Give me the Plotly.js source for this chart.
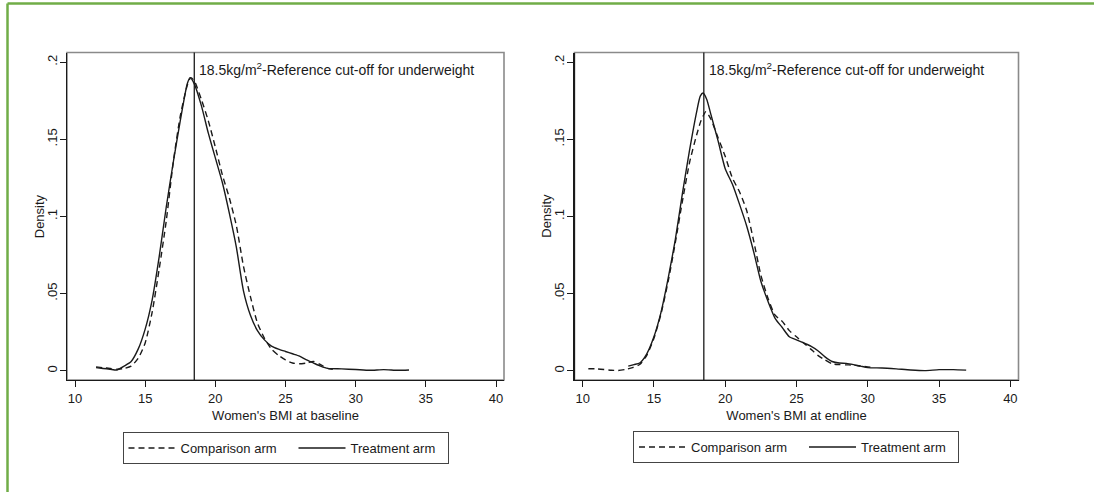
<!DOCTYPE html>
<html><head><meta charset="utf-8">
<script src="https://cdn.plot.ly/plotly-3.0.1.min.js"></script>
<style>html,body{margin:0;padding:0;background:#fff;} #chart{width:1094px;height:492px;}</style>
</head><body><div id="chart"></div>
<script>
// ---- data ----
const cutoff = 18.5;
const seriesNames = ['Comparison arm', 'Treatment arm'];
const xTitles = ["Women's BMI at baseline", "Women's BMI at endline"];
const yTitle = 'Density';
const cutoffLabel = '18.5kg/m<sup>2</sup>-Reference cut-off for underweight';
const xTickVals = [10, 15, 20, 25, 30, 35, 40];
const yTickVals = [0, 0.05, 0.1, 0.15, 0.2];
const yTickText = ['0', '.05', '.1', '.15', '.2'];

// Baseline – comparison arm (dashed)
const baseCompX = [11.5,12,12.5,13,13.5,14,14.5,15,15.5,16,16.5,17,17.5,18,18.25,18.5,19,19.5,20,20.5,21,21.5,22,22.5,23,23.5,24,24.5,25,25.5,26,26.5,27,27.5,28,28.5];
const baseCompY = [0.0025,0.002,0.0015,0.001,0.0015,0.003,0.008,0.018,0.038,0.066,0.097,0.135,0.165,0.185,0.190,0.188,0.176,0.162,0.145,0.127,0.112,0.094,0.068,0.048,0.031,0.021,0.014,0.010,0.007,0.005,0.0045,0.005,0.006,0.004,0.0015,0.0008];
// Baseline – treatment arm (solid)
const baseTreatX = [11.5,12,12.5,13,13.5,14,14.5,15,15.5,16,16.5,17,17.5,18,18.2,18.5,19,19.5,20,20.5,21,21.5,22,22.5,23,23.5,24,24.5,25,25.5,26,26.5,27,27.5,28,29,30,31,32,33,33.8];
const baseTreatY = [0.002,0.0015,0.001,0.0005,0.003,0.006,0.014,0.027,0.046,0.074,0.106,0.135,0.162,0.186,0.190,0.186,0.172,0.154,0.138,0.122,0.102,0.080,0.052,0.036,0.026,0.020,0.016,0.014,0.0125,0.011,0.0095,0.007,0.005,0.003,0.0015,0.0012,0.0008,0.0003,0.0007,0.0003,0.0005];
// Endline – comparison arm (dashed)
const endCompX = [10.4,11,11.5,12,12.5,13,13.5,14,14.5,15,15.5,16,16.5,17,17.5,18,18.3,18.65,19,19.5,20,20.5,21,21.5,22,22.5,23,23.5,24,24.5,25,25.5,26,26.5,27,27.5,28,28.5,29,29.5,30,30.3];
const endCompY = [0.0013,0.0012,0.0008,0.0003,0.0002,0.0008,0.002,0.004,0.010,0.021,0.037,0.058,0.083,0.110,0.135,0.153,0.162,0.168,0.163,0.151,0.139,0.125,0.116,0.104,0.084,0.062,0.047,0.036,0.032,0.026,0.022,0.018,0.014,0.010,0.007,0.0045,0.004,0.0038,0.0037,0.003,0.0025,0.0022];
// Endline – treatment arm (solid)
const endTreatX = [13.2,13.6,14,14.5,15,15.5,16,16.5,17,17.5,18,18.25,18.45,18.7,19,19.5,20,20.5,21,21.5,22,22.5,23,23.5,24,24.5,25,25.5,26,26.5,27,27.5,28,28.5,29,29.5,30,31,32,33,34,35,36,36.9];
const endTreatY = [0.003,0.004,0.005,0.011,0.022,0.038,0.060,0.085,0.115,0.143,0.168,0.178,0.180,0.176,0.166,0.149,0.131,0.121,0.108,0.094,0.077,0.058,0.045,0.034,0.028,0.022,0.020,0.018,0.016,0.013,0.009,0.006,0.005,0.0048,0.004,0.003,0.002,0.0018,0.0012,0.0005,0.0001,0.0007,0.0007,0.0004];

// ---- styling ----
const FONT = "'Liberation Sans', Arial, sans-serif";
const INK = '#1a1a1a';
const dashStyle = '6px,4px';
const TICK_SIZE = 13, TITLE_SIZE = 13, LEG_SIZE = 13, NOTE_SIZE = 14;

function curve(x, y, name, dash, xa, ya, lg) {
  return {
    type: 'scatter', mode: 'lines', x: x, y: y, name: name,
    xaxis: xa, yaxis: ya, legend: lg,
    line: {color: INK, width: 1.4, dash: dash, shape: 'spline', smoothing: 0.6},
    hoverinfo: 'skip'
  };
}

const traces = [
  curve(baseCompX, baseCompY, seriesNames[0], dashStyle, 'x', 'y', 'legend'),
  curve(baseTreatX, baseTreatY, seriesNames[1], 'solid', 'x', 'y', 'legend'),
  curve(endCompX, endCompY, seriesNames[0], dashStyle, 'x2', 'y2', 'legend2'),
  curve(endTreatX, endTreatY, seriesNames[1], 'solid', 'x2', 'y2', 'legend2')
];
traces[1].legendwidth = 92;
traces[3].legendwidth = 92;

const W = 1094, H = 492;
const yDom = [1 - 380 / H, 1 - 52.5 / H];

function xAxis(domain, title, anchor) {
  return {
    domain: domain, anchor: anchor, range: [9.43, 40.57],
    tickmode: 'array', tickvals: xTickVals,
    ticks: 'outside', ticklen: 6, tickwidth: 1, tickcolor: INK,
    showline: true, linecolor: INK, linewidth: 1.3,
    showgrid: false, zeroline: false,
    tickfont: {family: FONT, size: TICK_SIZE, color: INK},
    title: {text: title, font: {family: FONT, size: TITLE_SIZE, color: INK}, standoff: 6},
    fixedrange: true
  };
}
function yAxis(anchor) {
  return {
    domain: yDom, anchor: anchor, range: [-0.006, 0.2063],
    tickmode: 'array', tickvals: yTickVals, ticktext: yTickText, tickangle: -90,
    ticks: 'outside', ticklen: 6, tickwidth: 1, tickcolor: INK,
    ticklabelstandoff: -2,
    showline: true, linecolor: INK, linewidth: 1.3,
    showgrid: false, zeroline: false,
    tickfont: {family: FONT, size: TICK_SIZE, color: INK},
    fixedrange: true
  };
}

function frame(xr, yr) {
  return {type: 'rect', xref: xr + ' domain', yref: yr + ' domain', x0: 0, x1: 1, y0: 0, y1: 1,
          line: {color: '#8a8a8a', width: 1.6}, layer: 'below'};
}
function cutLine(xr, yr) {
  return {type: 'line', xref: xr, yref: yr + ' domain', x0: cutoff, x1: cutoff, y0: 0, y1: 1,
          line: {color: INK, width: 1.3}};
}
function cutText(xr, yr) {
  return {xref: xr, yref: yr + ' domain', x: cutoff, y: 1, xanchor: 'left', yanchor: 'top',
          xshift: 3, yshift: -5, showarrow: false, text: cutoffLabel,
          font: {family: FONT, size: NOTE_SIZE, color: INK}};
}
function yTitleNote(xr, yr) {
  return {xref: xr + ' domain', yref: yr + ' domain', x: 0, y: 0.5, xanchor: 'center', yanchor: 'middle',
          xshift: -28, textangle: -90, showarrow: false, text: yTitle,
          font: {family: FONT, size: TITLE_SIZE, color: INK}};
}
function legendCfg(cx, top) {
  return {
    orientation: 'h', x: cx, xanchor: 'center', y: top, yanchor: 'top',
    bordercolor: '#444', borderwidth: 1, bgcolor: '#fff',
    font: {family: FONT, size: LEG_SIZE, color: INK},
    itemwidth: 47, entrywidth: 108, traceorder: 'normal'
  };
}

const green = '#70AD47';
const layout = {
  width: W, height: H,
  margin: {l: 0, r: 0, t: 0, b: 0},
  paper_bgcolor: '#fff', plot_bgcolor: '#fff',
  showlegend: true,
  xaxis: xAxis([67 / W, 504 / W], xTitles[0], 'y'),
  yaxis: yAxis('x'),
  xaxis2: xAxis([574.5 / W, 1018.5 / W], xTitles[1], 'y2'),
  yaxis2: yAxis('x2'),
  legend: legendCfg(285.5 / W, 1 - 432 / H),
  legend2: legendCfg(796 / W, 1 - 431 / H),
  shapes: [
    frame('x', 'y'), frame('x2', 'y2'),
    cutLine('x', 'y'), cutLine('x2', 'y2'),
    {type: 'line', xref: 'paper', yref: 'paper', x0: 7.5 / W, x1: 1, y0: 1 - 3.5 / H, y1: 1 - 3.5 / H,
     line: {color: green, width: 2.5}},
    {type: 'line', xref: 'paper', yref: 'paper', x0: 7.5 / W, x1: 7.5 / W, y0: 0, y1: 1 - 3.5 / H,
     line: {color: green, width: 2.5}}
  ],
  annotations: [cutText('x', 'y'), cutText('x2', 'y2'), yTitleNote('x', 'y'), yTitleNote('x2', 'y2')]
};

Plotly.newPlot('chart', traces, layout, {displayModeBar: false, staticPlot: true});
</script>
</body></html>
